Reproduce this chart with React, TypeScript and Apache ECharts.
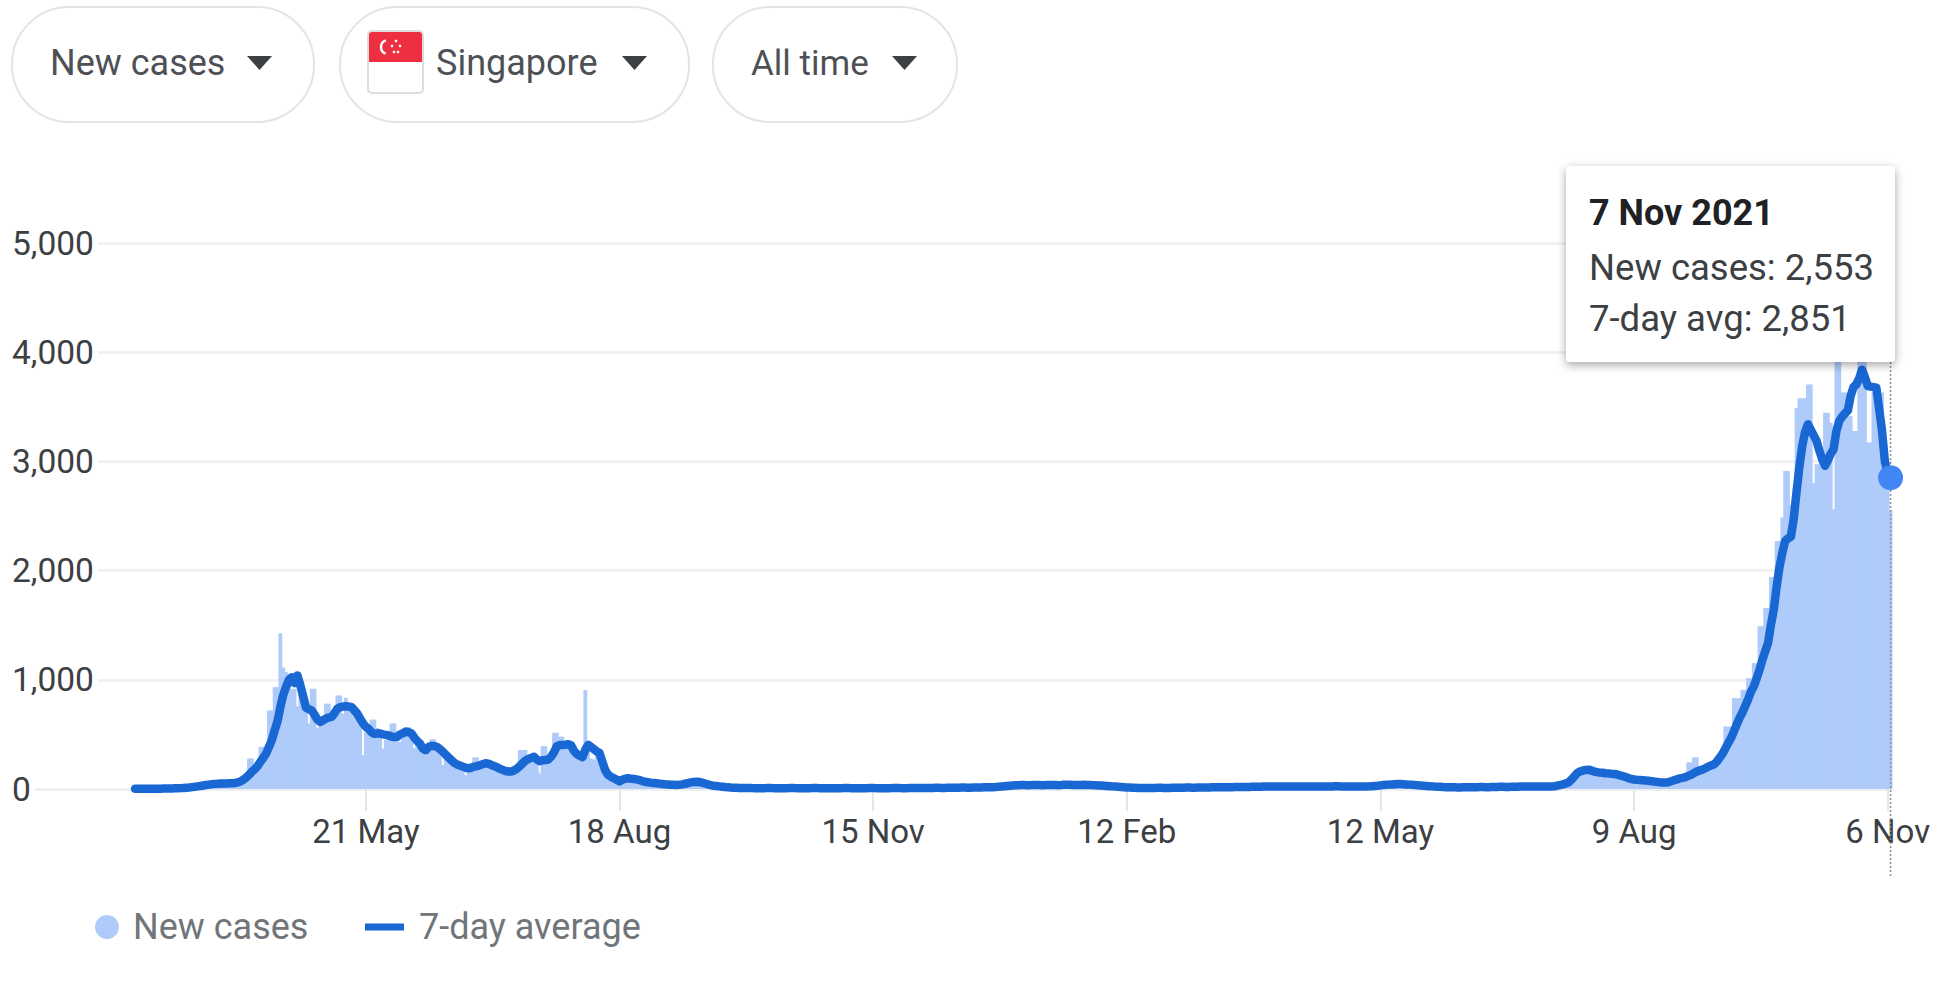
import React, { useEffect, useRef } from "react";
import * as echarts from "echarts";

const FONT = "Roboto, Arial, sans-serif";

const yTicks = [0, 1000, 2000, 3000, 4000, 5000];
const tickDays = [81, 170, 259, 348, 437, 526, 615];
const tickLabels = ["21 May", "18 Aug", "15 Nov", "12 Feb", "12 May", "9 Aug", "6 Nov"];

const newCases = [
  1,2,0,3,2,1,4,2,5,3,
  4,6,3,7,5,9,8,12,10,13,
  20,18,26,30,35,34,48,45,42,50,
  49,47,65,52,55,48,70,60,85,75,
  280,280,230,190,386,386,300,720,720,933,
  933,1426,1111,1070,950,918,918,760,880,870,
  720,600,918,918,560,640,620,781,781,700,
  640,857,857,690,836,781,781,700,640,620,
  310,520,560,635,635,560,500,370,450,480,
  600,600,450,430,470,568,568,480,372,420,
  400,350,311,390,455,455,370,340,220,300,
  270,240,230,215,200,190,128,175,190,290,
  290,210,200,240,220,215,190,200,170,160,
  150,140,150,160,200,357,357,357,311,311,
  311,250,143,393,393,240,300,515,515,479,
  479,433,433,390,320,290,270,300,906,420,
  280,270,330,300,280,120,90,110,70,60,
  55,90,100,98,85,88,92,70,65,60,
  55,50,56,48,52,44,40,42,36,37,
  34,36,46,50,58,64,70,72,60,54,
  46,40,30,28,25,22,20,16,14,12,
  11,12,9,10,8,10,8,9,7,8,
  7,9,10,8,9,7,6,8,9,7,
  10,8,9,7,6,8,7,9,10,8,
  9,7,8,6,8,6,9,7,8,10,
  8,9,7,6,8,9,7,8,10,8,
  7,9,6,8,7,9,10,8,10,7,
  9,7,10,8,11,9,10,8,11,9,
  11,10,12,9,11,10,12,11,13,11,
  12,14,11,13,12,14,13,15,14,16,
  15,18,17,21,23,24,29,31,33,35,
  34,37,35,36,34,37,36,38,34,36,
  35,38,36,37,34,37,37,40,37,38,
  35,37,36,39,36,37,34,35,32,33,
  29,30,25,25,21,21,17,17,13,14,
  11,12,9,11,8,10,9,11,9,12,
  10,11,9,11,10,12,11,13,11,14,
  12,13,11,14,12,15,13,15,14,16,
  14,16,15,17,16,18,17,19,17,20,
  18,20,19,21,20,22,21,23,21,24,
  22,24,21,23,21,24,22,25,23,24,
  22,24,21,24,23,25,22,23,21,24,
  23,26,24,25,22,23,21,24,23,25,
  22,24,21,25,25,29,29,34,35,39,
  39,43,43,46,44,45,41,41,37,37,
  33,33,29,29,25,25,21,22,19,19,
  16,17,14,16,13,15,14,16,15,17,
  16,18,17,19,16,18,17,20,18,21,
  19,20,18,21,20,22,21,23,22,24,
  22,25,23,26,22,25,24,23,27,33,
  40,44,55,65,92,120,150,165,172,180,
  172,165,155,150,147,146,140,144,138,135,
  128,120,112,104,95,90,82,85,78,79,
  74,78,70,66,62,64,55,58,66,78,
  85,90,100,110,110,244,244,290,290,185,
  185,200,215,225,235,260,300,330,572,572,
  572,832,832,832,908,908,1015,1015,1153,1153,
  1490,1490,1657,1657,1942,1942,2272,2272,2486,2913,
  2913,2600,2600,3490,3578,3578,3578,3705,3705,2800,
  2974,2974,2974,3446,3446,3355,2562,3950,4100,3630,
  3630,3416,3416,3279,3279,3950,4300,3950,3172,3172,
  3630,3630,3630,3630,2958,2900,2553,
];

const sevenDayAvg = [
  2,2,2,2,2,2,3,3,3,3,
  4,4,5,5,6,7,8,10,12,14,
  17,20,24,28,32,36,40,44,47,49,
  50,51,51,52,52,55,60,70,85,105,
  130,158,180,210,250,285,325,385,447,535,
  620,750,860,935,1000,1024,970,1040,950,850,
  745,730,720,680,635,615,630,645,655,660,
  695,735,750,755,757,755,750,720,690,645,
  600,570,550,520,505,510,508,500,495,490,
  480,475,478,500,510,525,520,509,470,440,
  415,370,355,385,395,393,385,365,342,315,
  290,265,240,225,215,205,195,190,195,205,
  210,218,228,235,232,220,210,200,185,175,
  165,160,160,170,185,210,235,260,275,285,
  295,270,255,263,265,270,295,335,390,403,
  403,405,410,400,350,320,305,292,360,405,
  385,365,345,330,250,170,130,112,100,85,
  70,85,95,98,95,92,88,82,72,66,
  62,58,55,52,49,46,43,41,39,38,
  37,38,42,48,54,60,65,67,64,58,
  50,42,35,30,27,24,21,18,15,13,
  12,11,10,10,9,9,9,8,8,8,
  8,8,9,9,8,8,7,7,8,8,
  9,9,8,8,7,7,8,8,9,9,
  8,8,8,7,7,7,8,8,8,9,
  9,8,8,7,7,8,8,8,9,9,
  8,8,7,7,8,8,9,9,9,8,
  8,8,9,9,10,10,9,9,10,10,
  10,11,11,10,10,11,11,12,12,12,
  13,13,12,12,13,13,14,14,15,15,
  16,17,18,20,22,25,28,30,32,34,
  35,36,36,35,35,36,37,36,35,35,
  36,37,37,36,35,36,38,39,38,37,
  36,36,37,38,37,36,35,34,33,32,
  30,28,26,24,22,20,18,16,14,13,
  12,11,10,10,9,9,10,10,10,11,
  11,10,10,10,11,11,12,12,12,13,
  13,12,12,13,13,14,14,14,15,15,
  15,15,16,16,17,17,18,18,18,19,
  19,19,20,20,21,21,22,22,22,23,
  23,23,22,22,22,23,23,24,24,23,
  23,22,22,23,24,24,23,22,22,23,
  24,25,25,24,23,22,22,23,24,24,
  23,22,22,24,26,28,30,33,36,38,
  40,42,44,45,45,44,42,40,38,36,
  34,32,30,28,26,24,22,21,20,18,
  17,16,15,15,14,14,15,15,16,16,
  17,17,18,18,17,17,18,19,19,20,
  20,19,19,20,21,21,22,22,23,23,
  24,24,24,24,24,24,24,24,25,30,
  36,42,50,61,85,115,145,160,168,175,
  177,170,160,155,150,148,145,143,140,138,
  133,125,118,110,100,92,87,84,82,80,
  78,76,72,68,65,62,60,60,61,70,
  80,88,97,102,108,120,130,145,160,170,
  178,190,205,215,225,250,285,320,370,420,
  465,525,590,650,700,760,820,890,939,1010,
  1090,1180,1260,1336,1500,1640,1850,2030,2160,2270,
  2295,2310,2470,2720,2950,3140,3270,3340,3290,3240,
  3190,3100,3020,2960,3010,3070,3110,3280,3370,3410,
  3440,3465,3600,3680,3705,3760,3840,3770,3690,3685,
  3680,3675,3480,3280,3000,2900,2851,
];

const pickers = ["New cases", "Singapore", "All time"];
const tooltipTitle = "7 Nov 2021";
const tooltipLines = ["New cases: 2,553", "7-day avg: 2,851"];
const legendNames = ["New cases", "7-day average"];

const pill = (x: number, w: number) => ({
  type: "rect",
  shape: { x, y: 7, width: w, height: 115, r: 57 },
  style: { fill: "#fff", stroke: "#e3e4e8", lineWidth: 2 },
});
const caret = (x: number) => ({
  type: "polygon",
  shape: { points: [[x, 56], [x + 25, 56], [x + 12.5, 70]] },
  style: { fill: "#3c4043" },
});
const label = (text: string, x: number, y: number, size: number, fill: string, weight = "normal") => ({
  type: "text",
  z: 12,
  style: {
    text, x, y, fill,
    font: `${weight} ${size}px ${FONT}`,
    textVerticalAlign: "middle",
    verticalAlign: "middle",
  },
});

export default function App() {
  const ref = useRef<HTMLDivElement>(null);
  useEffect(() => {
    document.body.style.margin = "0";
    const chart = echarts.init(ref.current!, null, { renderer: "svg" });
    chart.setOption({
      animation: false,
      backgroundColor: "#fff",
      grid: { left: 12, width: 1880, top: 243, height: 546, containLabel: false },
      legend: [
        {
          data: [{ name: legendNames[0], icon: "circle" }],
          left: 90, top: 904, itemWidth: 42, itemHeight: 24, selectedMode: false,
          textStyle: { fontFamily: FONT, fontSize: 36, color: "#70757a" },
        },
        {
          data: [{ name: legendNames[1], icon: "rect" }],
          left: 360, top: 904, itemWidth: 39, itemHeight: 7, selectedMode: false,
          textStyle: { fontFamily: FONT, fontSize: 36, color: "#70757a", padding: [0, 0, 0, 10] },
        },
      ],
      xAxis: {
        type: "value",
        min: -43.16,
        max: 616.5,
        splitLine: { show: false },
        axisLine: { show: true, lineStyle: { color: "#efefef", width: 3 } },
        axisTick: { show: true, length: 22, customValues: tickDays, lineStyle: { color: "#e6e6e6", width: 2 } },
        axisLabel: {
          customValues: tickDays,
          margin: 26,
          color: "#3c4043",
          fontFamily: FONT,
          fontSize: 33,
          formatter: (v: number) => tickLabels[tickDays.indexOf(v)] ?? "",
        },
      },
      yAxis: {
        type: "value",
        min: 0,
        max: 5000,
        interval: 1000,
        axisLine: { show: false },
        axisTick: { show: false },
        splitLine: { lineStyle: { color: "#f1f1f1", width: 3 } },
        axisLabel: {
          inside: true,
          margin: 0,
          align: "left",
          color: "#3c4043",
          fontFamily: FONT,
          fontSize: 33.5,
          backgroundColor: "#fff",
          padding: [0, 4, 0, 0],
          formatter: (v: number) => (yTicks.includes(v) ? v.toLocaleString("en-US") : ""),
        },
      },
      series: [
        {
          name: legendNames[0],
          type: "bar",
          barWidth: 3.8,
          clip: false,
          itemStyle: { color: "#aecbfa" },
          data: newCases.map((v, i) => [i, v]),
          z: 2,
        },
        {
          name: legendNames[1],
          type: "line",
          showSymbol: false,
          smooth: false,
          clip: false,
          lineStyle: { color: "#1967d2", width: 8.5, cap: "round", join: "round" },
          itemStyle: { color: "#1967d2" },
          data: sevenDayAvg.map((v, i) => [i, v]),
          z: 3,
        },
        {
          name: "Selected day",
          type: "scatter",
          symbolSize: 25,
          clip: false,
          itemStyle: { color: "#4285f4", opacity: 1 },
          data: [[sevenDayAvg.length - 1, sevenDayAvg[sevenDayAvg.length - 1]]],
          z: 6,
        },
      ],
    });
    const hoverX = chart.convertToPixel({ xAxisIndex: 0 }, sevenDayAvg.length - 1);
    chart.setOption({
      graphic: [
        pill(12, 302), pill(340, 349), pill(713, 244),
        label(pickers[0], 50, 63, 36, "#4d5156"),
        caret(247),
        { type: "rect", shape: { x: 368, y: 31, width: 55, height: 62, r: 4 }, style: { fill: "#fff", stroke: "#dddddd", lineWidth: 2 } },
        { type: "rect", shape: { x: 369, y: 32, width: 53, height: 30, r: [3, 3, 0, 0] }, style: { fill: "#ee2f42" } },
        { type: "arc", shape: { cx: 388, cy: 47, r: 7, startAngle: 1.9, endAngle: 4.4 }, style: { stroke: "#fff", lineWidth: 2.5, fill: "none" } },
        { type: "circle", shape: { cx: 396, cy: 41, r: 1.3 }, style: { fill: "#fff" } },
        { type: "circle", shape: { cx: 400, cy: 46, r: 1.3 }, style: { fill: "#fff" } },
        { type: "circle", shape: { cx: 392, cy: 46, r: 1.3 }, style: { fill: "#fff" } },
        { type: "circle", shape: { cx: 394, cy: 52, r: 1.3 }, style: { fill: "#fff" } },
        { type: "circle", shape: { cx: 398, cy: 52, r: 1.3 }, style: { fill: "#fff" } },
        label(pickers[1], 436, 63, 36, "#4d5156"),
        caret(622),
        label(pickers[2], 751, 63, 35, "#4d5156"),
        caret(892),
        {
          type: "line",
          z: 4,
          shape: { x1: hoverX, y1: 362, x2: hoverX, y2: 878 },
          style: { stroke: "#8f8f8f", lineWidth: 1.5, lineDash: [2, 2] },
        },
        {
          type: "rect",
          z: 10,
          shape: { x: 1566, y: 166, width: 329, height: 196, r: 4 },
          style: { fill: "#fff", shadowBlur: 10, shadowColor: "rgba(0,0,0,0.35)", shadowOffsetY: 3 },
        },
        label(tooltipTitle, 1589, 213, 36, "#202124", "bold"),
        label(tooltipLines[0], 1589, 267, 36.5, "#3c4043"),
        label(tooltipLines[1], 1589, 318, 36.5, "#3c4043"),
      ],
    });
    return () => chart.dispose();
  }, []);
  return <div ref={ref} style={{ width: 1954, height: 988 }} />;
}
